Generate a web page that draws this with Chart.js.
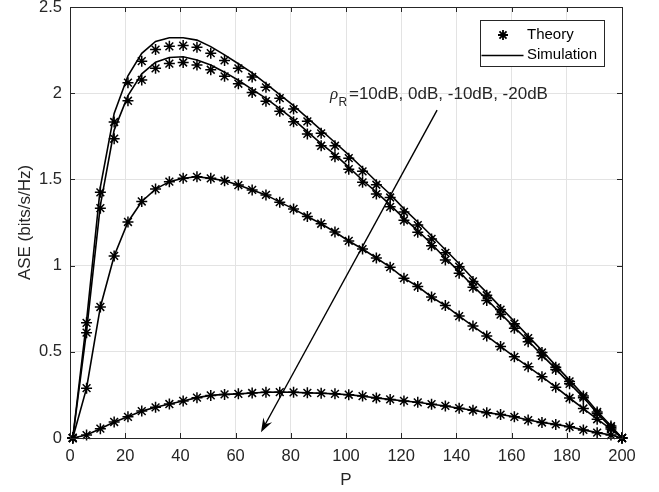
<!DOCTYPE html>
<html>
<head>
<meta charset="utf-8">
<script src="https://cdn.jsdelivr.net/npm/chart.js@4.4.1/dist/chart.umd.min.js"></script>
<style>
  html, body { margin: 0; padding: 0; background: #fff; }
  canvas { display: block; }
</style>
</head>
<body>
<canvas id="aseChart" width="659" height="492"></canvas>
<script>
// P axis sample points
const pValues = [1, 6, 11, 16, 21, 26, 31, 36, 41, 46, 51, 56, 61, 66, 71, 76, 81, 86, 91, 96,
                 101, 106, 111, 116, 121, 126, 131, 136, 141, 146, 151, 156, 161, 166, 171, 176, 181, 186, 191, 196, 200];

// Theory (markers) - rhoR = 10dB, 0dB, -10dB, -20dB
const theory10 = [0, 0.668, 1.425, 1.833, 2.061, 2.186, 2.253, 2.272, 2.276, 2.266, 2.232, 2.190, 2.144, 2.094, 2.034, 1.971, 1.908, 1.837, 1.767, 1.695,
                  1.623, 1.547, 1.469, 1.395, 1.311, 1.235, 1.155, 1.074, 0.994, 0.908, 0.828, 0.745, 0.663, 0.579, 0.496, 0.410, 0.328, 0.243, 0.151, 0.069, 0];
const theory0 = [0, 0.611, 1.333, 1.736, 1.956, 2.077, 2.144, 2.172, 2.178, 2.163, 2.136, 2.098, 2.055, 2.004, 1.954, 1.895, 1.834, 1.764, 1.695, 1.632,
                 1.559, 1.483, 1.415, 1.341, 1.263, 1.193, 1.115, 1.033, 0.956, 0.874, 0.797, 0.716, 0.636, 0.559, 0.477, 0.397, 0.314, 0.234, 0.142, 0.061, 0];
const theoryM10 = [0, 0.289, 0.760, 1.056, 1.253, 1.372, 1.444, 1.487, 1.507, 1.515, 1.506, 1.492, 1.467, 1.439, 1.410, 1.368, 1.329, 1.285, 1.243, 1.195,
                   1.143, 1.096, 1.044, 0.991, 0.927, 0.879, 0.818, 0.768, 0.707, 0.649, 0.592, 0.531, 0.471, 0.414, 0.356, 0.295, 0.232, 0.171, 0.109, 0.052, 0];
const theoryM20 = [0, 0.017, 0.054, 0.093, 0.123, 0.156, 0.178, 0.197, 0.215, 0.234, 0.247, 0.253, 0.256, 0.261, 0.265, 0.266, 0.265, 0.262, 0.260, 0.256,
                   0.251, 0.243, 0.232, 0.224, 0.215, 0.207, 0.196, 0.186, 0.173, 0.161, 0.147, 0.136, 0.123, 0.104, 0.090, 0.079, 0.065, 0.047, 0.031, 0.017, 0];

// Simulation (solid lines)
const sim10 = [0, 0.680, 1.455, 1.883, 2.101, 2.231, 2.300, 2.322, 2.322, 2.308, 2.270, 2.222, 2.171, 2.118, 2.056, 1.992, 1.928, 1.857, 1.786, 1.714,
               1.642, 1.566, 1.488, 1.414, 1.329, 1.253, 1.173, 1.092, 1.011, 0.924, 0.843, 0.759, 0.676, 0.591, 0.507, 0.420, 0.336, 0.249, 0.155, 0.071, 0];
const sim0 = [0, 0.621, 1.349, 1.786, 1.986, 2.112, 2.180, 2.207, 2.211, 2.193, 2.163, 2.122, 2.075, 2.022, 1.970, 1.910, 1.848, 1.777, 1.707, 1.644,
              1.571, 1.495, 1.426, 1.352, 1.274, 1.203, 1.125, 1.043, 0.965, 0.882, 0.804, 0.722, 0.642, 0.564, 0.481, 0.401, 0.317, 0.236, 0.144, 0.062, 0];
const simM10 = [0, 0.289, 0.760, 1.056, 1.253, 1.372, 1.444, 1.487, 1.507, 1.515, 1.506, 1.492, 1.467, 1.439, 1.410, 1.368, 1.329, 1.285, 1.243, 1.195,
                1.143, 1.096, 1.044, 0.991, 0.927, 0.879, 0.818, 0.768, 0.707, 0.649, 0.592, 0.531, 0.471, 0.414, 0.356, 0.295, 0.232, 0.171, 0.109, 0.052, 0];
const simM20 = [0, 0.017, 0.054, 0.093, 0.123, 0.156, 0.178, 0.197, 0.215, 0.234, 0.247, 0.253, 0.256, 0.261, 0.265, 0.266, 0.265, 0.262, 0.260, 0.256,
                0.251, 0.243, 0.232, 0.224, 0.215, 0.207, 0.196, 0.186, 0.173, 0.161, 0.147, 0.136, 0.123, 0.104, 0.090, 0.079, 0.065, 0.047, 0.031, 0.017, 0];

// Axis ticks
const xTicks = [0, 20, 40, 60, 80, 100, 120, 140, 160, 180, 200];
const yTicks = [0, 0.5, 1, 1.5, 2, 2.5];

// Annotation arrow (data coords) and labels
const arrowFrom = { x: 133.0, y: 1.902 };
const arrowTo = { x: 69.2, y: 0.034 };
const annotationText = '=10dB, 0dB, -10dB, -20dB';
const legendLabels = ['Theory', 'Simulation'];

const FONT = '"Liberation Sans", Arial, Helvetica, sans-serif';
const TEXT_COLOR = '#262626';

function toPoints(values) {
    return pValues.map((p, i) => ({ x: p, y: values[i] }));
}

function theorySet(values) {
    return {
        data: toPoints(values),
        showLine: false,
        pointStyle: 'star',
        pointRadius: 5.5,
        pointBorderWidth: 1.5,
        pointBorderColor: '#000',
        pointBackgroundColor: '#000',
        clip: false
    };
}

function simSet(values) {
    return {
        data: toPoints(values),
        showLine: true,
        borderColor: '#000',
        borderWidth: 1.6,
        pointRadius: 0,
        tension: 0,
        clip: false
    };
}

// frame with inward ticks, legend and arrow annotation
const matlabDecor = {
    id: 'matlabDecor',
    afterDatasetsDraw(chart) {
        const ctx = chart.ctx;
        const xs = chart.scales.x, ys = chart.scales.y;

        ctx.save();
        // arrow
        const x1 = xs.getPixelForValue(arrowFrom.x), y1 = ys.getPixelForValue(arrowFrom.y);
        const x2 = xs.getPixelForValue(arrowTo.x), y2 = ys.getPixelForValue(arrowTo.y);
        const ang = Math.atan2(y2 - y1, x2 - x1);
        const headLen = 14, headHalf = 5, back = 9;
        ctx.strokeStyle = '#000';
        ctx.fillStyle = '#000';
        ctx.lineWidth = 1.4;
        ctx.beginPath();
        ctx.moveTo(x1, y1);
        ctx.lineTo(x2 - Math.cos(ang) * back, y2 - Math.sin(ang) * back);
        ctx.stroke();
        const bx = x2 - Math.cos(ang) * headLen, by = y2 - Math.sin(ang) * headLen;
        const nx = -Math.sin(ang), ny = Math.cos(ang);
        ctx.beginPath();
        ctx.moveTo(x2, y2);
        ctx.lineTo(bx + nx * headHalf, by + ny * headHalf);
        ctx.lineTo(x2 - Math.cos(ang) * back, y2 - Math.sin(ang) * back);
        ctx.lineTo(bx - nx * headHalf, by - ny * headHalf);
        ctx.closePath();
        ctx.fill();

        // annotation text: rho_R=...
        const tx = xs.getPixelForValue(94.2), ty = ys.getPixelForValue(1.966);
        ctx.fillStyle = TEXT_COLOR;
        ctx.textBaseline = 'alphabetic';
        ctx.textAlign = 'left';
        ctx.font = 'italic 17px "Liberation Serif", "DejaVu Serif", serif';
        ctx.fillText('ρ', tx, ty);
        ctx.font = '12px ' + FONT;
        ctx.fillText('R', tx + 8.5, ty + 7);
        ctx.font = '17px ' + FONT;
        ctx.fillText(annotationText, tx + 19, ty);

        // legend box
        const lx = 480.5, ly = 20.5, lw = 124, lh = 46;
        ctx.fillStyle = '#fff';
        ctx.fillRect(lx, ly, lw, lh);
        ctx.strokeStyle = '#262626';
        ctx.lineWidth = 1;
        ctx.strokeRect(lx, ly, lw, lh);
        // star marker
        const sx = 503, sy = 35, r = 5;
        ctx.strokeStyle = '#000';
        ctx.lineWidth = 1.8;
        ctx.beginPath();
        ctx.moveTo(sx - r, sy); ctx.lineTo(sx + r, sy);
        ctx.moveTo(sx, sy - r); ctx.lineTo(sx, sy + r);
        const d = r * Math.SQRT1_2;
        ctx.moveTo(sx - d, sy - d); ctx.lineTo(sx + d, sy + d);
        ctx.moveTo(sx - d, sy + d); ctx.lineTo(sx + d, sy - d);
        ctx.stroke();
        // line sample
        ctx.lineWidth = 1.5;
        ctx.beginPath();
        ctx.moveTo(481.5, 55.5); ctx.lineTo(523.5, 55.5);
        ctx.stroke();
        ctx.fillStyle = '#000';
        ctx.font = '15px ' + FONT;
        ctx.textBaseline = 'middle';
        ctx.fillText(legendLabels[0], 527, 35);
        ctx.fillText(legendLabels[1], 527, 55);
        ctx.restore();
    },
    afterDraw(chart) {
        const ctx = chart.ctx;
        const xs = chart.scales.x, ys = chart.scales.y;
        const a = chart.chartArea;
        const tick = 5;
        ctx.save();
        ctx.strokeStyle = '#262626';
        ctx.lineWidth = 1;
        ctx.strokeRect(Math.round(a.left) + 0.5, Math.round(a.top) + 0.5,
                       Math.round(a.right - a.left), Math.round(a.bottom - a.top));
        ctx.beginPath();
        xTicks.forEach(v => {
            const px = Math.round(xs.getPixelForValue(v)) + 0.5;
            ctx.moveTo(px, a.bottom); ctx.lineTo(px, a.bottom - tick);
            ctx.moveTo(px, a.top); ctx.lineTo(px, a.top + tick);
        });
        yTicks.forEach(v => {
            const py = Math.round(ys.getPixelForValue(v)) + 0.5;
            ctx.moveTo(a.left, py); ctx.lineTo(a.left + tick, py);
            ctx.moveTo(a.right, py); ctx.lineTo(a.right - tick, py);
        });
        ctx.stroke();
        ctx.restore();
    }
};

new Chart(document.getElementById('aseChart').getContext('2d'), {
    type: 'scatter',
    data: {
        datasets: [
            theorySet(theory10), theorySet(theory0), theorySet(theoryM10), theorySet(theoryM20),
            simSet(sim10), simSet(sim0), simSet(simM10), simSet(simM20)
        ]
    },
    options: {
        responsive: false,
        animation: false,
        devicePixelRatio: 1,
        layout: { padding: { left: 0, right: 37, top: 4, bottom: 0 } },
        plugins: {
            legend: { display: false },
            tooltip: { enabled: false }
        },
        scales: {
            x: {
                type: 'linear',
                min: 0,
                max: 200,
                afterBuildTicks: scale => { scale.ticks = xTicks.map(v => ({ value: v })); },
                afterFit: scale => { scale.height = 54; scale.paddingLeft = 0; scale.paddingRight = 0; },
                ticks: { color: TEXT_COLOR, font: { family: FONT, size: 16.5 }, padding: 9, maxRotation: 0 },
                grid: { color: '#e3e3e3', drawTicks: false },
                border: { display: false },
                title: {
                    display: true,
                    text: 'P',
                    color: TEXT_COLOR,
                    font: { family: FONT, size: 17, lineHeight: 1.2 },
                    padding: { top: 0, bottom: 1 }
                }
            },
            y: {
                type: 'linear',
                min: 0,
                max: 2.5,
                afterBuildTicks: scale => { scale.ticks = yTicks.map(v => ({ value: v })); },
                afterFit: scale => { scale.width = 70; scale.paddingTop = 0; scale.paddingBottom = 0; },
                ticks: {
                    color: TEXT_COLOR,
                    font: { family: FONT, size: 16.5 },
                    padding: 8,
                    callback: v => String(v)
                },
                grid: { color: '#e3e3e3', drawTicks: false },
                border: { display: false },
                title: {
                    display: true,
                    text: 'ASE (bits/s/Hz)',
                    color: TEXT_COLOR,
                    font: { family: FONT, size: 17, lineHeight: 1.2 },
                    padding: { top: 15, bottom: 0 }
                }
            }
        }
    },
    plugins: [matlabDecor]
});
</script>
</body>
</html>
